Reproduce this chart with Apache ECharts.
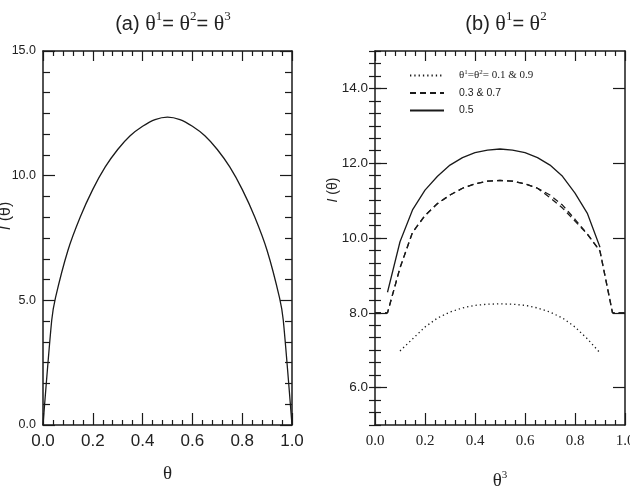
<!DOCTYPE html>
<html>
<head>
<meta charset="utf-8">
<script src="https://cdn.jsdelivr.net/npm/echarts@6/dist/echarts.min.js"></script>
<style>
  html, body { margin: 0; padding: 0; background: #fff; }
  #main { width: 630px; height: 491px; }
</style>
</head>
<body>
<div id="main"></div>
<script>
// panel (a): theta1 = theta2 = theta3
var thetaA = [0, 0.035, 0.05, 0.1, 0.15, 0.2, 0.25, 0.3, 0.35, 0.4, 0.45, 0.5,
              0.55, 0.6, 0.65, 0.7, 0.75, 0.8, 0.85, 0.9, 0.95, 0.965, 1.0];
var infoA = [0, 4.2, 5.1, 7.0, 8.35, 9.45, 10.35, 11.05, 11.6, 11.98, 12.25, 12.35,
             12.25, 11.98, 11.6, 11.05, 10.35, 9.45, 8.35, 7.0, 5.1, 4.2, 0];

// panel (b): theta1 = theta2, x = theta3
var thetaB = [0, 0.05, 0.1, 0.15, 0.2, 0.25, 0.3, 0.35, 0.4, 0.45, 0.5,
              0.55, 0.6, 0.65, 0.7, 0.75, 0.8, 0.85, 0.9, 0.95, 1.0];
var info05 = [null, 8.55, 9.9, 10.75, 11.28, 11.65, 11.95, 12.15, 12.28, 12.35, 12.38,
              12.35, 12.28, 12.15, 11.95, 11.65, 11.2, 10.65, 9.75, null, null];
var info03 = [8.0, 8.0, 9.2, 10.15, 10.6, 10.92, 11.15, 11.33, 11.45, 11.52, 11.54,
              11.52, 11.45, 11.33, 11.15, 10.88, 10.5, 10.1, 9.65, 8.0, 8.0];
var info07 = [8.0, 8.0, 9.2, 10.15, 10.6, 10.92, 11.15, 11.33, 11.45, 11.52, 11.54,
              11.52, 11.45, 11.33, 11.08, 10.8, 10.45, 10.1, 9.65, 8.0, 8.0];
var info01 = [null, null, 6.98, 7.3, 7.62, 7.86, 8.02, 8.13, 8.2, 8.23, 8.24,
              8.23, 8.2, 8.13, 8.02, 7.86, 7.62, 7.3, 6.93, null, null];

var yLabelsB = [6, 8, 10, 12, 14];

var ink = '#1a1a1a';

function pairs(xs, ys) {
    return xs.map(function (x, i) { return [x, ys[i]]; });
}

var myChart = echarts.init(document.getElementById('main'));

// shared pieces for the frame axes
var frameLine = { show: true, onZero: false, lineStyle: { color: ink, width: 1.5 } };
function xAx(grid, pos, labels, fontOpt) {
    return {
        type: 'value', gridIndex: grid, position: pos, min: 0, max: 1, interval: 0.2,
        axisLine: frameLine,
        axisTick: { inside: true, length: pos === 'top' ? 10 : 12, lineStyle: { color: ink, width: 1.2 } },
        minorTick: { show: true, splitNumber: 5, length: 5, lineStyle: { color: ink, width: 1.2 } },
        splitLine: { show: false },
        axisLabel: labels ? Object.assign({
            show: true, color: '#222', hideOverlap: false,
            formatter: function (v) { return v.toFixed(1); }
        }, fontOpt) : { show: false }
    };
}

var titleRich = {
    n: { fontFamily: 'Liberation Sans', fontSize: 20, fontWeight: 'normal', color: '#222', lineHeight: 28 },
    t: { fontFamily: 'Liberation Serif', fontSize: 22, fontWeight: 'normal', color: '#222', lineHeight: 28 },
    s: { fontFamily: 'Liberation Serif', fontSize: 13, fontWeight: 'normal', color: '#222', verticalAlign: 'top', lineHeight: 18 }
};

var option = {
    animation: false,
    backgroundColor: '#fff',
    title: [{
        text: '{n|(a) }{t|θ}{s|1}{n|= }{t|θ}{s|2}{n|= }{t|θ}{s|3}',
        left: 168, top: 5, textAlign: 'center',
        textStyle: { fontWeight: 'normal', rich: titleRich }
    }, {
        text: '{n|(b) }{t|θ}{s|1}{n|= }{t|θ}{s|2}',
        left: 501, top: 5, textAlign: 'center',
        textStyle: { fontWeight: 'normal', rich: titleRich }
    }],
    legend: {
        orient: 'vertical', left: 404, top: 64,
        itemWidth: 34, itemHeight: 10, itemGap: 6.5,
        itemStyle: { opacity: 0 },
        data: ['0.1 & 0.9', '0.3 & 0.7', '0.5'],
        formatter: function (name) {
            if (name === '0.1 & 0.9') {
                return '{g|θ}{u|1}{g|=θ}{u|2}{g|= 0.1 & 0.9}';
            }
            return name;
        },
        textStyle: {
            fontFamily: 'Liberation Sans', fontSize: 10.5, color: '#222',
            padding: [0, 0, 0, 10],
            rich: {
                g: { fontFamily: 'Liberation Serif', fontSize: 11, color: '#222', lineHeight: 13 },
                u: { fontFamily: 'Liberation Serif', fontSize: 7, color: '#222', verticalAlign: 'top', lineHeight: 8 }
            }
        }
    },
    grid: [
        { left: 43, top: 51, width: 249, height: 374, outerBoundsMode: 'none', containLabel: false },
        { left: 375, top: 51, width: 250, height: 374, outerBoundsMode: 'none', containLabel: false }
    ],
    xAxis: [
        Object.assign(xAx(0, 'bottom', true, { fontFamily: 'Liberation Sans', fontSize: 17, margin: 8 }), {
            name: 'θ', nameLocation: 'middle', nameGap: 40,
            nameTextStyle: { fontFamily: 'Liberation Serif', fontSize: 19, color: '#222' }
        }),
        xAx(0, 'top', false),
        Object.assign(xAx(1, 'bottom', true, { fontFamily: 'Liberation Serif', fontSize: 15, margin: 9 }), {
            name: '{t|θ}{s|3}', nameLocation: 'middle', nameGap: 45,
            nameTextStyle: {
                rich: {
                    t: { fontFamily: 'Liberation Serif', fontSize: 19, color: '#222', lineHeight: 22 },
                    s: { fontFamily: 'Liberation Serif', fontSize: 11, color: '#222', verticalAlign: 'top', lineHeight: 12 }
                }
            }
        }),
        xAx(1, 'top', false)
    ],
    yAxis: [
        {
            type: 'value', gridIndex: 0, position: 'left', min: 0, max: 15, interval: 5,
            axisLine: frameLine,
            axisTick: { inside: true, length: 12, lineStyle: { color: ink, width: 1.2 } },
            minorTick: { show: true, splitNumber: 6, length: 7, lineStyle: { color: ink, width: 1.2 } },
            splitLine: { show: false },
            axisLabel: {
                color: '#222', fontFamily: 'Liberation Sans', fontSize: 12.5, margin: 7,
                formatter: function (v) { return v.toFixed(1); }
            }
        },
        {
            type: 'value', gridIndex: 0, position: 'right', min: 0, max: 15, interval: 5,
            axisLine: frameLine,
            axisTick: { inside: true, length: 12, lineStyle: { color: ink, width: 1.2 } },
            minorTick: { show: true, splitNumber: 6, length: 7, lineStyle: { color: ink, width: 1.2 } },
            splitLine: { show: false },
            axisLabel: { show: false }
        },
        {
            // major ticks + labels of panel (b), left side
            type: 'value', gridIndex: 1, position: 'left', min: 5, max: 15, interval: 1,
            axisLine: frameLine,
            axisTick: { inside: true, length: 12, customValues: yLabelsB, lineStyle: { color: ink, width: 1.2 } },
            splitLine: { show: false },
            axisLabel: {
                color: '#222', fontFamily: 'Liberation Sans', fontSize: 13.5, margin: 7,
                customValues: yLabelsB,
                formatter: function (v) { return v % 2 === 0 ? v.toFixed(1) : ''; }
            }
        },
        {
            // minor ticks of panel (b), left side
            type: 'value', gridIndex: 1, position: 'left', min: 5, max: 15, interval: 1,
            axisLine: { show: false },
            axisTick: { inside: true, length: 6, lineStyle: { color: ink, width: 1.2 } },
            minorTick: { show: true, splitNumber: 3, length: 6, lineStyle: { color: ink, width: 1.2 } },
            splitLine: { show: false },
            axisLabel: { show: false }
        },
        {
            type: 'value', gridIndex: 1, position: 'right', min: 5, max: 15, interval: 1,
            axisLine: frameLine,
            axisTick: { inside: true, length: 12, customValues: yLabelsB, lineStyle: { color: ink, width: 1.2 } },
            splitLine: { show: false },
            axisLabel: { show: false }
        },
        {
            type: 'value', gridIndex: 1, position: 'right', min: 5, max: 15, interval: 1,
            axisLine: { show: false },
            axisTick: { inside: true, length: 6, lineStyle: { color: ink, width: 1.2 } },
            minorTick: { show: true, splitNumber: 3, length: 6, lineStyle: { color: ink, width: 1.2 } },
            splitLine: { show: false },
            axisLabel: { show: false }
        }
    ],
    graphic: [
        {
            type: 'text', x: 6, y: 216, rotation: Math.PI / 2,
            style: {
                text: '{i|I} (θ)', fill: '#222', align: 'center', verticalAlign: 'middle',
                font: '16px "Liberation Sans"',
                rich: { i: { fontStyle: 'italic', fontSize: 16, fontFamily: 'Liberation Sans' } }
            }
        },
        {
            type: 'text', x: 333, y: 190, rotation: Math.PI / 2,
            style: {
                text: '{i|I} (θ)', fill: '#222', align: 'center', verticalAlign: 'middle',
                font: '14px "Liberation Sans"',
                rich: { i: { fontStyle: 'italic', fontSize: 14, fontFamily: 'Liberation Sans' } }
            }
        }
    ],
    series: [
        {
            type: 'line', xAxisIndex: 0, yAxisIndex: 0,
            data: pairs(thetaA, infoA),
            showSymbol: false, symbol: 'none',
            smooth: 0.25,
            lineStyle: { color: ink, width: 1.3 }
        },
        {
            name: '0.1 & 0.9', type: 'line', xAxisIndex: 2, yAxisIndex: 2,
            data: pairs(thetaB, info01), symbol: 'none',
            lineStyle: { color: ink, width: 1.3, type: [1.3, 3] },
            itemStyle: { color: ink }
        },
        {
            name: '0.3 & 0.7', type: 'line', xAxisIndex: 2, yAxisIndex: 2,
            data: pairs(thetaB, info03), symbol: 'none',
            lineStyle: { color: ink, width: 1.3, type: [6, 4] },
            itemStyle: { color: ink }
        },
        {
            name: '0.3 & 0.7', type: 'line', xAxisIndex: 2, yAxisIndex: 2,
            data: pairs(thetaB, info07), symbol: 'none',
            lineStyle: { color: ink, width: 1.3, type: [6, 4] },
            itemStyle: { color: ink }
        },
        {
            name: '0.5', type: 'line', xAxisIndex: 2, yAxisIndex: 2,
            data: pairs(thetaB, info05), symbol: 'none',
            lineStyle: { color: ink, width: 1.3 },
            itemStyle: { color: ink }
        }
    ]
};

myChart.setOption(option);
</script>
</body>
</html>
